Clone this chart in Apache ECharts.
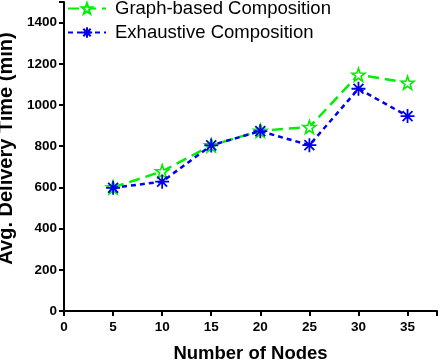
<!DOCTYPE html>
<html><head><meta charset="utf-8">
<script src="https://cdn.jsdelivr.net/npm/echarts@6/dist/echarts.min.js"></script>
<style>html,body{margin:0;padding:0;background:#fff}#c{width:448px;height:362px}</style>
</head><body><div id="c"></div>
<script>
const nodes = [5, 10, 15, 20, 25, 30, 35];
const graphBased = [600, 678, 804, 875, 893, 1147, 1108];
const exhaustive = [598, 628, 804, 873, 805, 1079, 946];
const seriesNames = ['Graph-based Composition', 'Exhaustive Composition'];

const star = 'path://M0,-10L2.35,-3.24L9.51,-3.09L3.8,1.24L5.88,8.09L0,4L-5.88,8.09L-3.8,1.24L-9.51,-3.09L-2.35,-3.24Z';
const asterisk = 'path://M0,-10L0,10M-10,0L10,0M-7.07,-7.07L7.07,7.07M-7.07,7.07L7.07,-7.07';
const font = '"Liberation Sans", Arial, sans-serif';

const chart = echarts.init(document.getElementById('c'), null, {renderer: 'canvas'});
chart.setOption({
  animation: false,
  backgroundColor: '#fff',
  grid: {left: 64, right: 11, top: 2, bottom: 51, containLabel: false, outerBoundsMode: 'none'},
  legend: {
    orient: 'vertical', left: 62, top: -6, itemGap: 5, itemWidth: 38, itemHeight: 13,
    textStyle: {fontFamily: font, fontSize: 18.5, color: '#000', padding: [0, 0, 0, 4]},
    data: seriesNames
  },
  xAxis: {
    type: 'value', min: 0, max: 38, interval: 5,
    name: 'Number of Nodes', nameLocation: 'middle', nameGap: 33,
    nameTextStyle: {fontFamily: font, fontSize: 18.5, fontWeight: 'bold', color: '#000', verticalAlign: 'top'},
    axisLine: {lineStyle: {color: '#000', width: 2}},
    axisTick: {show: true, length: 5, lineStyle: {color: '#000', width: 2}},
    axisLabel: {fontFamily: font, fontSize: 13.5, fontWeight: 'bold', color: '#000', margin: 9,
      formatter: v => (v <= 35 ? String(v) : '')},
    splitLine: {show: false}
  },
  yAxis: {
    type: 'value', min: 0, max: 1500, interval: 200,
    name: 'Avg. Delivery Time (min)', nameLocation: 'middle', nameGap: 40,
    nameTextStyle: {fontFamily: font, fontSize: 20, fontWeight: 'bold', color: '#000', padding: [0, 0, 0, 16]},
    axisLine: {show: true, lineStyle: {color: '#000', width: 2}},
    axisTick: {show: true, length: 5, lineStyle: {color: '#000', width: 2}},
    axisLabel: {fontFamily: font, fontSize: 13.5, fontWeight: 'bold', color: '#000', margin: 7,
      formatter: v => (v <= 1400 ? String(v) : '')},
    splitLine: {show: false}
  },
  series: [
    {
      name: seriesNames[0], type: 'line',
      data: nodes.map((x, i) => [x, graphBased[i]]),
      symbol: star, symbolSize: 13,
      lineStyle: {color: '#00ee00', width: 2.5, type: [11, 6]},
      itemStyle: {color: '#fff', borderColor: '#00ee00', borderWidth: 1.6},
      z: 2
    },
    {
      name: seriesNames[1], type: 'line',
      data: nodes.map((x, i) => [x, exhaustive[i]]),
      symbol: asterisk, symbolSize: 14,
      lineStyle: {color: '#0000ee', width: 2.5, type: [5, 4]},
      itemStyle: {color: 'none', borderColor: '#0000ee', borderWidth: 1.8},
      z: 3
    }
  ]
});
</script></body></html>
